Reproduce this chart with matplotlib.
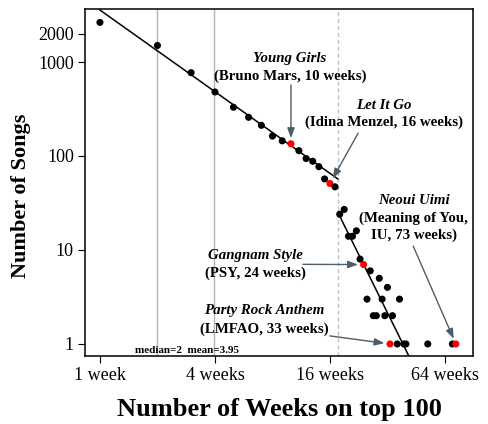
import matplotlib
matplotlib.use('Agg')
import matplotlib.pyplot as plt
import numpy as np

plt.rcParams['font.family'] = ['Liberation Serif', 'DejaVu Serif']

# weeks on chart vs number of songs
weeks = [1, 2, 3, 4, 5, 6, 7, 8, 9, 10, 11, 12, 13, 14, 15, 16, 17,
         18, 19, 20, 21, 22, 23, 24, 25, 26, 27, 28, 29, 30, 31, 32,
         33, 34, 36, 37, 39, 40, 52, 70, 73]
songs = [2640, 1500, 770, 480, 330, 258, 212, 163, 145, 135, 114, 94, 88, 77, 57, 51, 47,
         24, 27, 14, 14, 16, 8, 7, 3, 6, 2, 2, 5, 3, 2, 4,
         1, 2, 1, 3, 1, 1, 1, 1, 1]
highlight_weeks = [10, 16, 24, 33, 73]

# fitted power-law segments
fit_head = dict(w0=1.0, w1=17.6, anchor=1.0, logc=3.553, slope=-1.443)
fit_tail = dict(w0=17.6, w1=45.0, anchor=17.7, logc=1.390, slope=-4.113)
breakpoint_week = 17.6
median_week = 2
mean_week = 3.95

xtick_vals = [1, 4, 16, 64]
xtick_labels = ['1 week', '4 weeks', '16 weeks', '64 weeks']
ytick_vals = [1, 10, 100, 1000, 2000]
ytick_labels = ['1', '10', '100', '1000', '2000']

notes = [
    # title, subtitle lines, week, x (axes frac), line y's, arrow start
    ('Young Girls', ['(Bruno Mars, 10 weeks)'], 10, 0.528, [0.860, 0.808], (0.531, 0.782)),
    ('Let It Go', ['(Idina Menzel, 16 weeks)'], 16, 0.770, [0.724, 0.676], (0.704, 0.643)),
    ('Gangnam Style', ['(PSY, 24 weeks)'], 24, 0.439, [0.291, 0.240], (0.562, 0.2645)),
    ('Party Rock Anthem', ['(LMFAO, 33 weeks)'], 33, 0.461, [0.131, 0.078], (0.631, 0.058)),
    ('Neoui Uimi', ['(Meaning of You,', 'IU, 73 weeks)'], 73, 0.848, [0.450, 0.397, 0.349],
     (0.846, 0.317)),
]

fig = plt.figure(figsize=(4.89, 4.24), dpi=100)
ax = fig.add_axes([0.1738, 0.1604, 0.7934, 0.8172])
ax.set_xscale('log', base=2)
ax.set_yscale('log')
ax.set_xlim(0.835, 89.7)
ax.set_ylim(0.745, 3620)

ax.axvline(median_week, color='#b4b4b4', lw=1, zorder=1)
ax.axvline(mean_week, color='#b4b4b4', lw=1, zorder=1)
ax.axvline(breakpoint_week, color='#c0c0c0', lw=1, ls=(0, (3, 2)), zorder=1)

for f in (fit_head, fit_tail):
    w = np.array([f['w0'], f['w1']])
    c = 10 ** (f['logc'] + f['slope'] * (np.log10(w) - np.log10(f['anchor'])))
    ax.plot(w, c, color='black', lw=1.1, zorder=2)

colors = ['red' if w in highlight_weeks else 'black' for w in weeks]
ax.scatter(weeks, songs, s=26, c=colors, zorder=3, linewidths=0)

lookup = dict(zip(weeks, songs))
for title, subs, wk, tx, ys, apos in notes:
    ax.text(tx, ys[0], title, transform=ax.transAxes, ha='center', va='center',
            fontsize=10.7, fontweight='bold', fontstyle='italic')
    for line, y in zip(subs, ys[1:]):
        ax.text(tx, y, line, transform=ax.transAxes, ha='center', va='center',
                fontsize=10.7, fontweight='bold')
    ax.annotate('', xy=(wk, lookup[wk]), xycoords='data',
                xytext=apos, textcoords='axes fraction',
                arrowprops=dict(arrowstyle='-|>,head_length=0.6,head_width=0.22',
                                color='#4e5d6a', lw=1, shrinkA=0, shrinkB=4,
                                mutation_scale=10))

ax.text(0.263, 0.017, 'median=2  mean=3.95', transform=ax.transAxes, ha='center',
        va='center', fontsize=8, fontweight='bold')

ax.set_xticks(xtick_vals)
ax.set_xticklabels(xtick_labels)
ax.set_yticks(ytick_vals)
ax.set_yticklabels(ytick_labels)
ax.minorticks_off()
ax.tick_params(axis='both', labelsize=13, direction='out', length=5, width=0.8, pad=3)

for sp in ax.spines.values():
    sp.set_linewidth(1.1)

ax.set_xlabel('Number of Weeks on top 100', fontsize=19, fontweight='bold', labelpad=10)
ax.set_ylabel('Number of Songs', fontsize=16, fontweight='bold')
ax.yaxis.set_label_coords(-0.14, 0.463)

fig.savefig('out.png', dpi=100)
